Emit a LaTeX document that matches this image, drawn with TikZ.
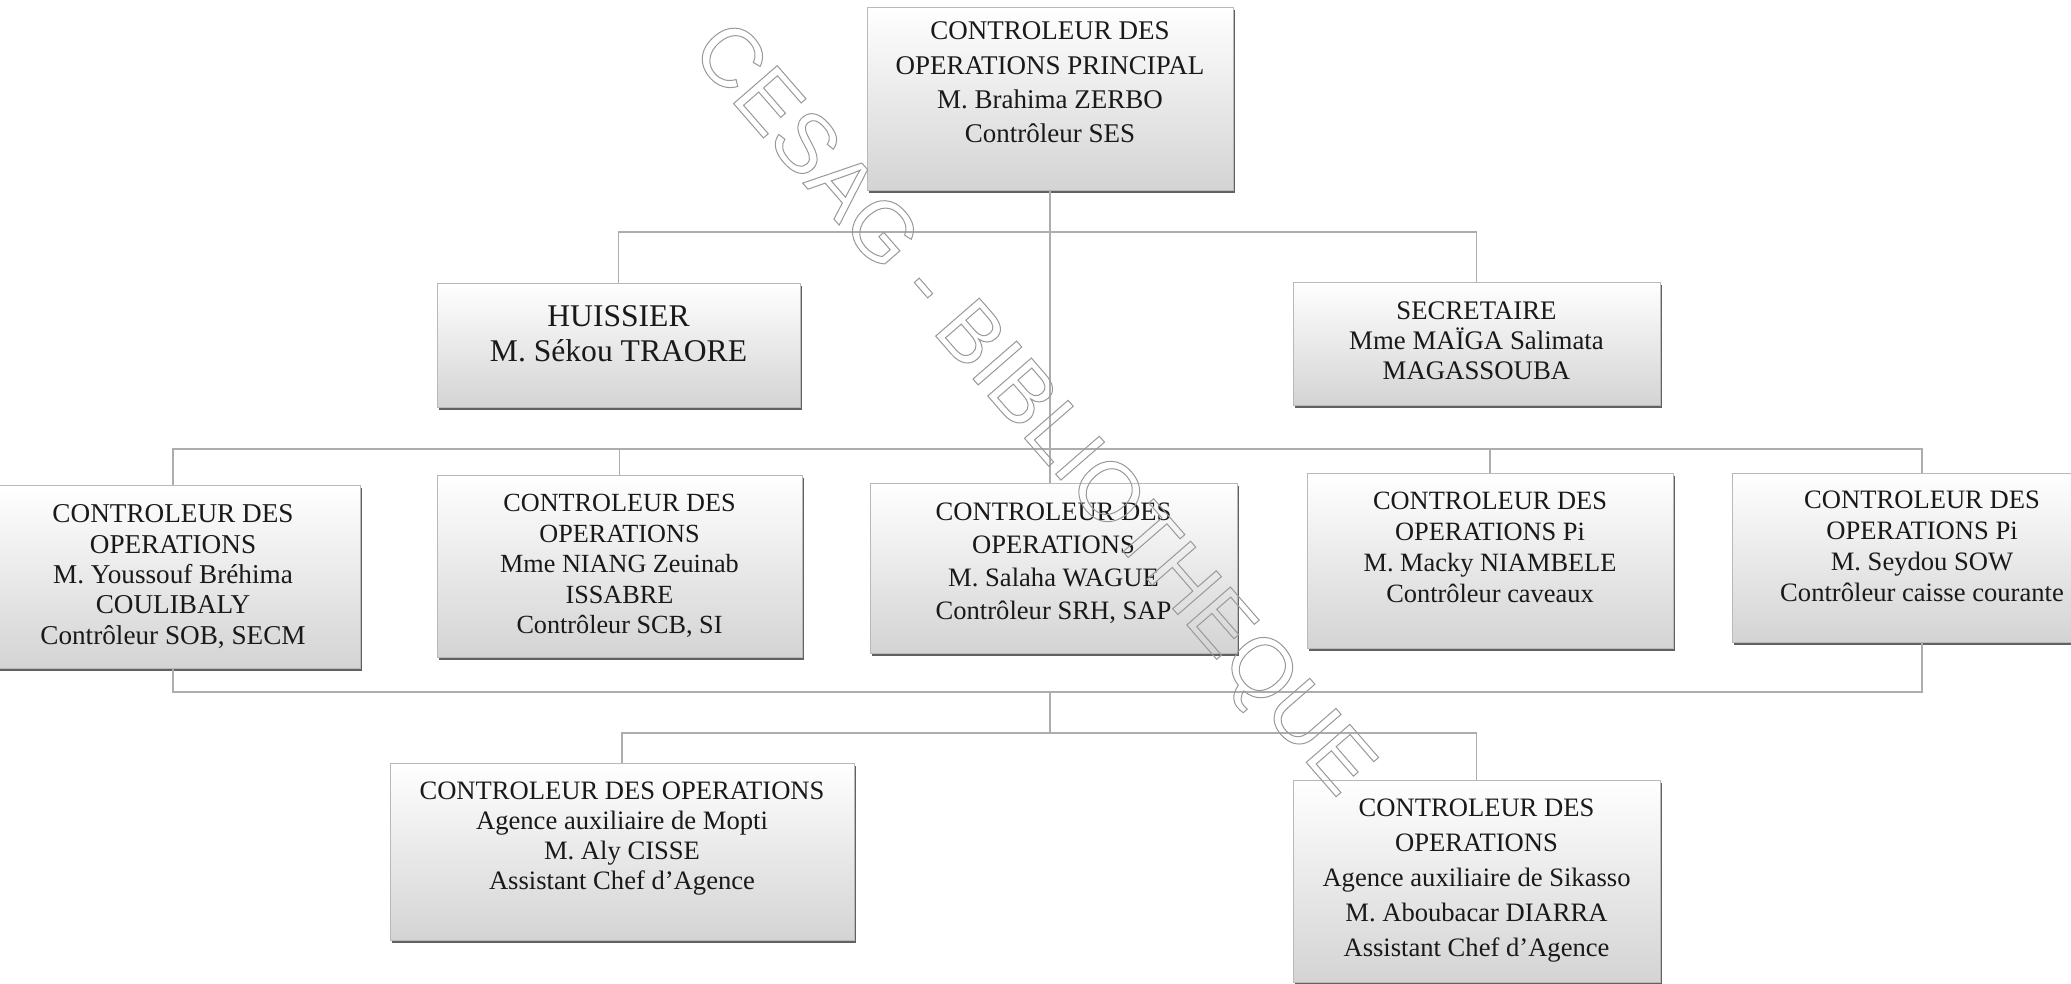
\documentclass[tikz,border=0pt]{standalone}
\usepackage{fontspec}
\setmainfont{Liberation Serif}
\newfontfamily\wmfont{Liberation Sans}
\usetikzlibrary{shadows}
\begin{document}
\begin{tikzpicture}[x=0.5pt,y=-0.5pt,
  orgbox/.style={draw=gray!55, line width=0.4pt, top color=white, bottom color=black!17,
    inner sep=0pt,
    drop shadow={shadow xshift=0.9pt, shadow yshift=-1.5pt, fill=black!62, opacity=1}},
  boxtext/.style={align=center, inner sep=0pt, text=black!90},
  link/.style={draw=black!32, line width=0.6pt},
  watermark/.style={rotate=-49, text=black!40, font=\wmfont\fontsize{42}{42}\selectfont}]
\useasboundingbox (0,0) rectangle (2071,984);
\clip (0,0) rectangle (2071,984);
\fill[white] (0,0) rectangle (2071,984);

% bus levels
\coordinate (busA) at (0,232);
\coordinate (busB) at (0,449);
\coordinate (busC) at (0,692);
\coordinate (busD) at (0,733);

% frames
\node[orgbox, minimum width=183pt,   minimum height=91.5pt] (top)   at (1050,98.5) {};
\node[orgbox, minimum width=181.5pt, minimum height=62pt]   (huiss) at (618.5,345) {};
\node[orgbox, minimum width=183.5pt, minimum height=61.5pt] (secr)  at (1476.5,343.5) {};
\node[orgbox, minimum width=187pt,   minimum height=91.5pt] (b1)    at (173,576.5) {};
\node[orgbox, minimum width=182.5pt, minimum height=91pt]   (b2)    at (619.5,566) {};
\node[orgbox, minimum width=183.5pt, minimum height=85pt]   (b3)    at (1053.5,568) {};
\node[orgbox, minimum width=183pt,   minimum height=87.5pt] (b4)    at (1490,560.5) {};
\node[orgbox, minimum width=190pt,   minimum height=84.5pt] (b5)    at (1922,557.5) {};
\node[orgbox, minimum width=232pt,   minimum height=88.5pt] (b6)    at (622,851.5) {};
\node[orgbox, minimum width=183.5pt, minimum height=101pt]  (b7)    at (1476.5,881) {};

% texts
\node[boxtext, font=\fontsize{13.5}{17.2}\selectfont] (topt) at ([yshift=8pt]top.center)
  {CONTROLEUR DES\\OPERATIONS PRINCIPAL\\M. Brahima ZERBO\\Contrôleur SES};
\node[boxtext, font=\fontsize{15.8}{17.5}\selectfont] (huisst) at ([yshift=5.5pt]huiss.center)
  {HUISSIER\\M. Sékou TRAORE};
\node[boxtext, font=\fontsize{13.4}{15}\selectfont] (secrt) at ([yshift=1.5pt]secr.center)
  {SECRETAIRE\\Mme MAÏGA Salimata\\MAGASSOUBA};
\node[boxtext, font=\fontsize{13.6}{15.2}\selectfont] (b1t) at (b1.center)
  {CONTROLEUR DES\\OPERATIONS\\M. Youssouf Bréhima\\COULIBALY\\Contrôleur SOB, SECM};
\node[boxtext, font=\fontsize{13.1}{15.2}\selectfont] (b2t) at (b2.center)
  {CONTROLEUR DES\\OPERATIONS\\Mme NIANG Zeuinab\\ISSABRE\\Contrôleur SCB, SI};
\node[boxtext, font=\fontsize{13.3}{16.5}\selectfont] (b3t) at ([yshift=2.5pt]b3.center)
  {CONTROLEUR DES\\OPERATIONS\\M. Salaha WAGUE\\Contrôleur SRH, SAP};
\node[boxtext, font=\fontsize{13.2}{15.4}\selectfont] (b4t) at ([yshift=6.5pt]b4.center)
  {CONTROLEUR DES\\OPERATIONS Pi\\M. Macky NIAMBELE\\Contrôleur caveaux};
\node[boxtext, font=\fontsize{13.3}{15.4}\selectfont] (b5t) at ([yshift=5.5pt]b5.center)
  {CONTROLEUR DES\\OPERATIONS Pi\\M. Seydou SOW\\Contrôleur caisse courante};
\node[boxtext, font=\fontsize{13.3}{15}\selectfont] (b6t) at ([yshift=6.5pt]b6.center)
  {CONTROLEUR DES OPERATIONS\\Agence auxiliaire de Mopti\\M. Aly CISSE\\Assistant Chef d’Agence};
\node[boxtext, font=\fontsize{13.3}{17.5}\selectfont] (b7t) at (b7.center)
  {CONTROLEUR DES\\OPERATIONS\\Agence auxiliaire de Sikasso\\M. Aboubacar DIARRA\\Assistant Chef d’Agence};

% connectors
\draw[link] (top.south) -- (top.south |- b3.north);
\draw[link] (huiss.north) |- (busA -| secr.north) -- (secr.north);
\draw[link] (b1.north) |- (busB -| b5.north) -- (b5.north);
\draw[link] (b2.north) -- (b2.north |- busB);
\draw[link] (b4.north) -- (b4.north |- busB);
\draw[link] (b1.south) |- (busC -| b5.south) -- (b5.south);
\draw[link] (busC -| top.south) -- (busD -| top.south);
\draw[link] (b6.north) |- (busD -| b7.north) -- (b7.north);

% outlined watermark
\node[watermark] (wm) at (1030,412)
  {\special{pdf:literal direct 1 Tr 0.5 w}CESAG - BIBLIOTHEQUE\special{pdf:literal direct 0 Tr}};
\end{tikzpicture}
\end{document}
